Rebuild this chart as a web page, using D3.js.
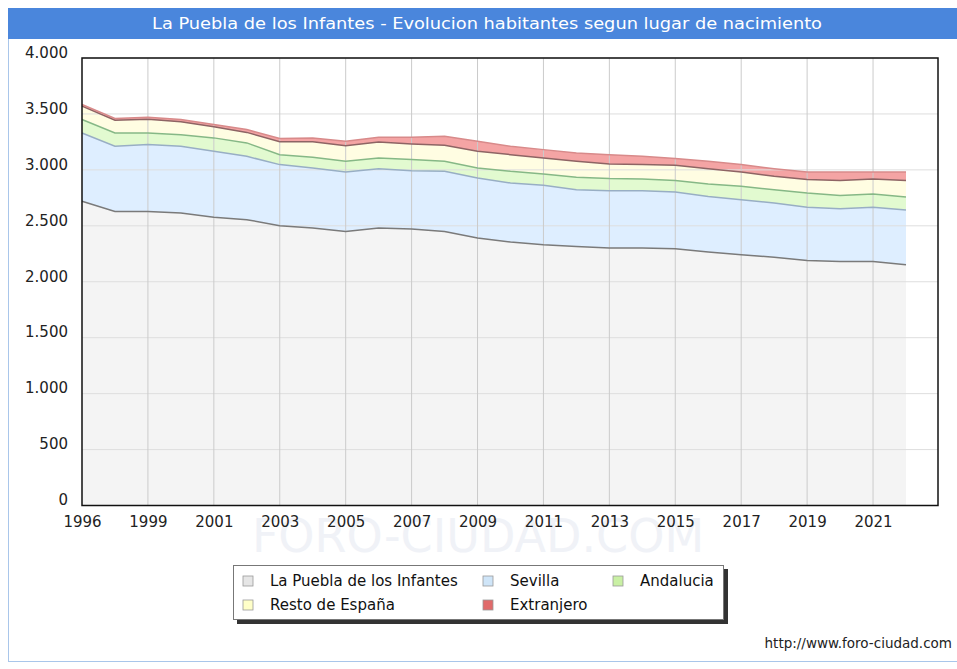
<!DOCTYPE html>
<html>
<head>
<meta charset="utf-8">
<script src="https://cdn.jsdelivr.net/npm/d3@7"></script>
<style>
  body { margin: 0; background: #fff; }
  svg text { font-family: "DejaVu Sans", Verdana, sans-serif; }
</style>
</head>
<body>
<svg id="chart" width="957" height="669"></svg>
<script>
// years on the axis (no 1997 padron)
const years = [1996, 1998, 1999, 2000, 2001, 2002, 2003, 2004, 2005, 2006, 2007, 2008, 2009,
  2010, 2011, 2012, 2013, 2014, 2015, 2016, 2017, 2018, 2019, 2020, 2021, 2022];
const tickYears = [1996, 1999, 2001, 2003, 2005, 2007, 2009, 2011, 2013, 2015, 2017, 2019, 2021];
const yTicks = [0, 500, 1000, 1500, 2000, 2500, 3000, 3500, 4000];

const seriesNames = ["La Puebla de los Infantes", "Sevilla", "Andalucia", "Resto de España", "Extranjero"];

const laPuebla = [2719, 2629, 2629, 2615, 2576, 2555, 2501, 2480, 2450, 2480, 2471, 2450, 2391,
  2355, 2331, 2316, 2301, 2301, 2295, 2266, 2242, 2218, 2191, 2182, 2182, 2152];
const sevilla = [611, 582, 597, 596, 590, 566, 546, 537, 531, 531, 522, 537, 537,
  528, 531, 507, 513, 513, 508, 497, 492, 486, 474, 471, 483, 490];
const andalucia = [120, 119, 104, 104, 120, 120, 89, 95, 96, 96, 99, 90, 89,
  104, 102, 111, 108, 105, 101, 111, 119, 119, 129, 119, 120, 116];
const restoEspana = [120, 114, 122, 115, 99, 94, 116, 140, 139, 143, 140, 143, 149,
  149, 143, 143, 131, 128, 137, 137, 128, 119, 119, 132, 134, 146];
const extranjero = [14, 15, 18, 20, 20, 25, 28, 34, 40, 42, 60, 81, 90,
  75, 74, 74, 83, 74, 60, 66, 66, 69, 68, 77, 62, 77];

const fillColors = ["#f4f4f4", "#deeeff", "#e2fad0", "#fffde2", "#f4a4a4"];
const lineColors = ["#7a7a7a", "#98aec4", "#86b886", "#8e6464", "#d88a8a"];
const swatchColors = ["#e6e6e6", "#cfe5f8", "#c9f0a4", "#ffffc8", "#e06a6a"];

const svg = d3.select("#chart");

// outer frame + title bar
svg.append("rect").attr("x", 8.5).attr("y", 8.5).attr("width", 960).attr("height", 653)
  .attr("fill", "#fff").attr("stroke", "#a9c6ea");
svg.append("rect").attr("x", 8).attr("y", 8).attr("width", 949).attr("height", 31)
  .attr("fill", "#4a86dc");
svg.append("text").attr("x", 487).attr("y", 29).attr("text-anchor", "middle")
  .attr("fill", "#fff").style("font-size", "16px")
  .attr("textLength", 670).attr("lengthAdjust", "spacingAndGlyphs")
  .text("La Puebla de los Infantes - Evolucion habitantes segun lugar de nacimiento");

const plot = { left: 82, right: 938, top: 58, bottom: 505.5 };
const dataRight = 906;

// watermark
svg.append("text").attr("x", 478).attr("y", 552).attr("text-anchor", "middle")
  .attr("fill", "#f0f2f7").style("font-size", "46px")
  .text("FORO-CIUDAD.COM");

const x = d3.scalePoint().domain(years).range([plot.left, dataRight]);
const y = d3.scaleLinear().domain([0, 4000]).range([plot.bottom, plot.top]);

const rows = years.map((yr, i) => ({
  year: yr,
  s0: laPuebla[i], s1: sevilla[i], s2: andalucia[i], s3: restoEspana[i], s4: extranjero[i]
}));
const stacked = d3.stack().keys(["s0", "s1", "s2", "s3", "s4"])(rows);

const area = d3.area().x(d => x(d.data.year)).y0(d => y(d[0])).y1(d => y(d[1]));
const topLine = d3.line().x(d => x(d.data.year)).y(d => y(d[1]));

const g = svg.append("g");
stacked.forEach((layer, i) => {
  g.append("path").attr("d", area(layer)).attr("fill", fillColors[i]);
});

// grid on top of the fills
const grid = svg.append("g");
yTicks.slice(1).forEach(t => {
  grid.append("line").attr("x1", plot.left).attr("x2", plot.right)
    .attr("y1", y(t)).attr("y2", y(t)).attr("stroke", "#dedede").attr("stroke-width", 1);
});
tickYears.slice(1).forEach(t => {
  grid.append("line").attr("x1", x(t)).attr("x2", x(t))
    .attr("y1", plot.top).attr("y2", plot.bottom).attr("stroke", "#cbcbcb").attr("stroke-width", 1);
});

const lines = svg.append("g");
stacked.forEach((layer, i) => {
  lines.append("path").attr("d", topLine(layer)).attr("fill", "none")
    .attr("stroke", lineColors[i]).attr("stroke-width", 1.5);
});

// frame
svg.append("rect").attr("x", plot.left).attr("y", plot.top)
  .attr("width", plot.right - plot.left).attr("height", plot.bottom - plot.top)
  .attr("fill", "none").attr("stroke", "#111").attr("stroke-width", 1.5);

// axes
const esFormat = d3.formatLocale({ decimal: ",", thousands: ".", grouping: [3], currency: ["", "€"] }).format(",d");
const yAxis = d3.axisLeft(y).tickValues(yTicks).tickSize(0).tickPadding(14).tickFormat(esFormat);
const yG = svg.append("g").attr("transform", "translate(" + plot.left + ",0)").call(yAxis);
yG.select(".domain").remove();
yG.selectAll(".tick text").style("font-size", "15px").attr("fill", "#222")
  .attr("font-family", "DejaVu Sans").attr("dy", "-0.05em");

const xAxis = d3.axisBottom(x).tickValues(tickYears).tickSize(0).tickPadding(11);
const xG = svg.append("g").attr("transform", "translate(0," + plot.bottom + ")").call(xAxis);
xG.select(".domain").remove();
xG.selectAll(".tick text").style("font-size", "15px").attr("fill", "#222")
  .attr("font-family", "DejaVu Sans");

// legend
const legend = svg.append("g").attr("transform", "translate(233,565)");
legend.append("rect").attr("x", 4).attr("y", 4).attr("width", 491).attr("height", 55).attr("fill", "#333");
legend.append("rect").attr("x", 0.5).attr("y", 0.5).attr("width", 490).attr("height", 54)
  .attr("fill", "#fff").attr("stroke", "#777");
const legendPos = [[15, 15], [255, 15], [385, 15], [15, 39], [255, 39]];
seriesNames.forEach((name, i) => {
  const item = legend.append("g").attr("transform", "translate(" + legendPos[i][0] + "," + legendPos[i][1] + ")");
  item.append("rect").attr("x", -5).attr("y", -4).attr("width", 10).attr("height", 10)
    .attr("fill", swatchColors[i]).attr("stroke", "#999").attr("stroke-width", 0.8);
  item.append("text").attr("x", 22).attr("y", 6).style("font-size", "15px").attr("fill", "#111").text(name);
});

// footer
svg.append("text").attr("x", 952).attr("y", 648).attr("text-anchor", "end")
  .style("font-size", "13.5px").attr("fill", "#222").text("http://www.foro-ciudad.com");
</script>
</body>
</html>
